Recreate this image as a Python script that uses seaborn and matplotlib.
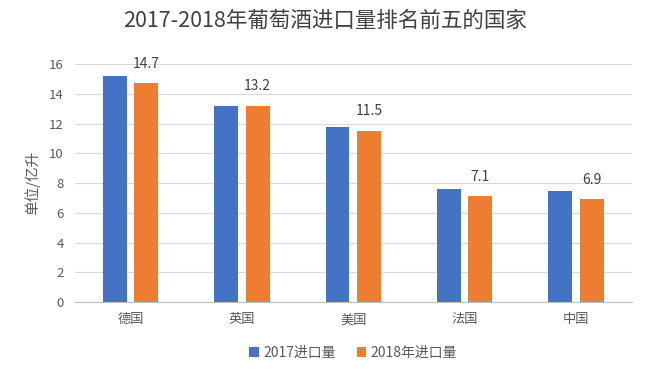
import pandas as pd
import matplotlib.pyplot as plt
import seaborn as sns

# dados
paises = ["德国", "英国", "美国", "法国", "中国"]
imp_2017 = [15.2, 13.2, 11.8, 7.6, 7.5]
imp_2018 = [14.7, 13.2, 11.5, 7.1, 6.9]
series = ["2017进口量", "2018年进口量"]
yticks = [0, 2, 4, 6, 8, 10, 12, 14, 16]

df = pd.DataFrame({
    "pais": paises * 2,
    "valor": imp_2017 + imp_2018,
    "serie": [series[0]] * len(paises) + [series[1]] * len(paises),
})

sns.set_style("white")
plt.rcParams["font.family"] = ["Noto Sans CJK SC", "DejaVu Sans"]

fig = plt.figure(figsize=(6.5, 3.81), dpi=100)
ax = fig.add_axes([0.115, 0.207, 0.857, 0.625])

sns.barplot(
    data=df, x="pais", y="valor", hue="serie",
    palette=["#4472C4", "#ED7D31"], width=0.565, gap=0.24,
    saturation=1, linewidth=0, ax=ax, legend=True,
)

# rótulos só na série 2018
cont = ax.containers[1]
ax.bar_label(cont, labels=[f"{v:.1f}" for v in imp_2018], padding=9,
             fontsize=10, color="#404040")

ax.set_ylim(0, 16)
ax.set_yticks(yticks)
ax.yaxis.grid(True, color="#d9d9d9", linewidth=0.8)
ax.set_axisbelow(True)
for s in ["top", "right", "left"]:
    ax.spines[s].set_visible(False)
ax.spines["bottom"].set_color("#bfbfbf")
ax.tick_params(axis="both", length=0, labelsize=9.5, colors="#595959", pad=8)
ax.set_xlabel("")
ax.set_ylabel("单位/亿升", fontsize=10.5, color="#595959", labelpad=6)

fig.suptitle("2017-2018年葡萄酒进口量排名前五的国家", fontsize=15.5,
             color="#404040", y=0.975)

leg = ax.legend(loc="upper center", bbox_to_anchor=(0.5, -0.13), ncol=2,
                frameon=False, fontsize=10, handlelength=0.7, handleheight=0.7,
                columnspacing=1.5, handletextpad=0.3)
for t in leg.get_texts():
    t.set_color("#595959")

fig.savefig("out.png", dpi=100)
